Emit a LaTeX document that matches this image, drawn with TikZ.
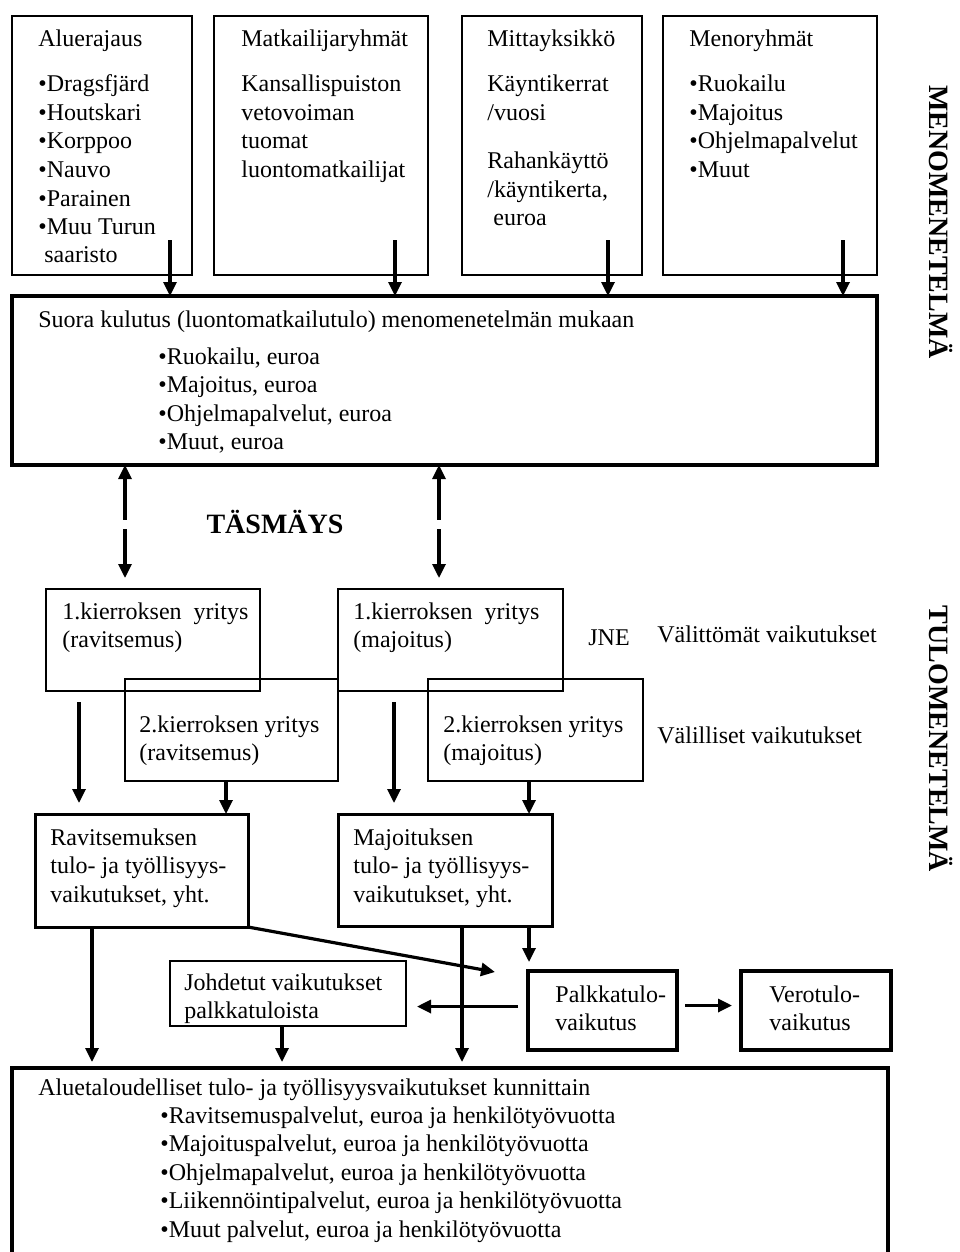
\documentclass[tikz,border=0pt]{standalone}
\usepackage{fontspec}
\setmainfont{Liberation Serif}
\usetikzlibrary{arrows.meta}
\newcommand{\ml}[1]{\begin{tabular}[t]{@{}l@{}}#1\end{tabular}}
\newcommand{\tx}{\fontsize{12}{14.25}\selectfont}

\begin{document}
\begin{tikzpicture}[x=0.5pt,y=-0.5pt]
    \tikzstyle{box}=[draw, line width=1pt, anchor=north west, outer sep=0pt, inner sep=0pt]
    \tikzstyle{thinbox}=[box, line width=0.8pt]
    \tikzstyle{midbox}=[box, line width=1.5pt]
    \tikzstyle{thickbox}=[box, line width=2.3pt]
    \tikzstyle{txt}=[anchor=base west, inner sep=0pt, font=\tx]
    \tikzstyle{arr}=[line width=1.6pt, -{Triangle[length=7pt,width=6.5pt]}]
    \tikzstyle{darr}=[line width=1.6pt, {Triangle[length=7pt,width=6.5pt]}-{Triangle[length=7pt,width=6.5pt]}, dash pattern=on 21pt off 4.5pt on 60pt]
    \tikzstyle{side}=[rotate=-90, inner sep=0pt, font=\bfseries\fontsize{14}{16}\selectfont]

    \useasboundingbox (0,0) rectangle (959,1252);
    \clip (0,0) rectangle (959,1252);

    \node[box, minimum width=90pt, minimum height=129.5pt] (alue) at (12,16) {};
    \node[box, minimum width=107pt, minimum height=129.5pt] (matk) at (214,16) {};
    \node[box, minimum width=90pt, minimum height=129.5pt] (mitta) at (462,16) {};
    \node[box, minimum width=107pt, minimum height=129.5pt] (meno) at (663,16) {};

    \node[txt] (alue head) at (38,47) {Aluerajaus};
    \node[txt] (alue list) at (38,92) {\ml{\textbullet Dragsfjärd\\ \textbullet Houtskari\\ \textbullet Korppoo\\ \textbullet Nauvo\\ \textbullet Parainen\\ \textbullet Muu Turun\\ \ saaristo}};
    \node[txt] (matk head) at (241,47) {Matkailijaryhmät};
    \node[txt] (matk list) at (241,92) {\ml{Kansallispuiston\\ vetovoiman\\ tuomat\\ luontomatkailijat}};
    \node[txt] (mitta head) at (487,47) {Mittayksikkö};
    \node[txt] (mitta kerrat) at (487,92) {\ml{Käyntikerrat\\ /vuosi}};
    \node[txt] (mitta raha) at (487,169) {\ml{Rahankäyttö\\ /käyntikerta,\\ \ euroa}};
    \node[txt] (meno head) at (689,47) {Menoryhmät};
    \node[txt] (meno list) at (689,92) {\ml{\textbullet Ruokailu\\ \textbullet Majoitus\\ \textbullet Ohjelmapalvelut\\ \textbullet Muut}};

    \node[thickbox, minimum width=432.5pt, minimum height=84.5pt] (suora) at (12,296) {};
    \node[txt] (suora head) at (38,327) {Suora kulutus (luontomatkailutulo) menomenetelmän mukaan};
    \node[txt] (suora list) at (158,364) {\ml{\textbullet Ruokailu, euroa\\ \textbullet Majoitus, euroa\\ \textbullet Ohjelmapalvelut, euroa\\ \textbullet Muut, euroa}};

    \foreach \b/\dx in {alue/-22, matk/-33, mitta/-34, meno/-34}
    {
        \coordinate (\b in) at ([shift={(\dx,-35)}]\b.south east);
        \draw[arr] (\b in) -- (\b in |- suora.north);
    }

    \node[anchor=base, inner sep=0pt, font=\bfseries\fontsize{14}{16}\selectfont] (tasmays) at (275,533) {TÄSMÄYS};

    \node[thinbox, minimum width=107pt, minimum height=51pt] (k1r) at (46,589) {};
    \node[thinbox, minimum width=112.5pt, minimum height=51pt] (k1m) at (338,589) {};
    \node[thinbox, minimum width=106.5pt, minimum height=51pt] (k2r) at (125,679) {};
    \node[thinbox, minimum width=107.5pt, minimum height=51pt] (k2m) at (428,679) {};

    \node[txt] (k1r text) at (62,619) {\ml{1.kierroksen\ \ yritys\\ (ravitsemus)}};
    \node[txt] (k1m text) at (353,619) {\ml{1.kierroksen\ \ yritys\\ (majoitus)}};
    \node[txt] (k2r text) at (139,732) {\ml{2.kierroksen yritys\\ (ravitsemus)}};
    \node[txt] (k2m text) at (443,732) {\ml{2.kierroksen yritys\\ (majoitus)}};
    \node[txt] (jne) at (588,645) {JNE};
    \node[txt] (valittomat) at (657,642) {Välittömät vaikutukset};
    \node[txt] (valilliset) at (657,743) {Välilliset vaikutukset};

    \coordinate (ds1) at ([xshift=39.5pt]k1r.north west);
    \coordinate (ds2) at ([xshift=50.5pt]k1m.north west);
    \draw[darr] (ds1 |- suora.south) -- ([yshift=5.5pt]ds1);
    \draw[darr] (ds2 |- suora.south) -- ([yshift=5.5pt]ds2);

    \node[midbox, minimum width=106.5pt, minimum height=56.5pt] (ravi) at (35,814) {};
    \node[midbox, minimum width=107pt, minimum height=56pt] (majo) at (338,814) {};
    \node[txt] (ravi text) at (50,845) {\ml{Ravitsemuksen\\ tulo- ja työllisyys-\\ vaikutukset, yht.}};
    \node[txt] (majo text) at (353,845) {\ml{Majoituksen\\ tulo- ja työllisyys-\\ vaikutukset, yht.}};

    \coordinate (r1) at ([shift={(33,11)}]k1r.south west);
    \coordinate (r1e) at (r1 |- ravi.north);
    \draw[arr] (r1) -- ([yshift=5.5pt]r1e);
    \coordinate (r2) at ([xshift=50.5pt]k2r.south west);
    \draw[arr] (r2) -- (r2 |- ravi.north);
    \coordinate (m1) at ([shift={(56,11)}]k1m.south west);
    \coordinate (m1e) at (m1 |- majo.north);
    \draw[arr] (m1) -- ([yshift=5.5pt]m1e);
    \coordinate (m2) at ([xshift=50.5pt]k2m.south west);
    \draw[arr] (m2) -- (m2 |- majo.north);

    \node[box, minimum width=118pt, minimum height=32.5pt] (johd) at (170,961) {};
    \node[txt] (johd text) at (184,990) {\ml{Johdetut vaikutukset\\ palkkatuloista}};
    \node[thickbox, minimum width=74.5pt, minimum height=39.5pt] (palk) at (528,971) {};
    \node[txt] (palk text) at (555,1002) {\ml{Palkkatulo-\\ vaikutus}};
    \node[thickbox, minimum width=75pt, minimum height=39.5pt] (vero) at (741,971) {};
    \node[txt] (vero text) at (769,1002) {\ml{Verotulo-\\ vaikutus}};

    \node[thickbox, minimum width=438pt, minimum height=116pt] (alueta) at (12,1068) {};
    \node[txt] (alueta head) at (38,1095) {Aluetaloudelliset tulo- ja työllisyysvaikutukset kunnittain};
    \node[txt] (alueta list) at (160,1123) {\ml{\textbullet Ravitsemuspalvelut, euroa ja henkilötyövuotta\\ \textbullet Majoituspalvelut, euroa ja henkilötyövuotta\\ \textbullet Ohjelmapalvelut, euroa ja henkilötyövuotta\\ \textbullet Liikennöintipalvelut, euroa ja henkilötyövuotta\\ \textbullet Muut palvelut, euroa ja henkilötyövuotta}};

    \coordinate (a1) at ([xshift=28.5pt]ravi.south west);
    \coordinate (a1e) at (a1 |- alueta.north);
    \draw[arr] (a1) -- ([yshift=3pt]a1e);
    \coordinate (a2) at ([xshift=62pt]majo.south west);
    \coordinate (a2e) at (a2 |- alueta.north);
    \draw[arr] (a2) -- ([yshift=3pt]a2e);
    \coordinate (a3) at ([xshift=56pt]johd.south west);
    \coordinate (a3e) at (a3 |- alueta.north);
    \draw[arr] (a3) -- ([yshift=3pt]a3e);

    \draw[arr] (ravi.south east) -- ([shift={(-33,1)}]palk.north west);
    \coordinate (p0) at ([xshift=-11.5pt]majo.south east);
    \coordinate (p0e) at (p0 |- palk.north);
    \draw[arr] (p0) -- ([yshift=4.5pt]p0e);
    \coordinate (p1) at ([shift={(-10,-4)}]palk.west);
    \coordinate (p1e) at (p1 -| johd.east);
    \draw[arr] (p1) -- ([xshift=5.5pt]p1e);
    \coordinate (p2) at ([shift={(8,-5)}]palk.east);
    \coordinate (p2e) at (p2 -| vero.west);
    \draw[arr] (p2) -- ([xshift=-4.5pt]p2e);

    \node[side] (menomenetelma) at (941,222) {MENOMENETELMÄ};
    \node[side] (tulomenetelma) at (941,739) {TULOMENETELMÄ};
\end{tikzpicture}
\end{document}
